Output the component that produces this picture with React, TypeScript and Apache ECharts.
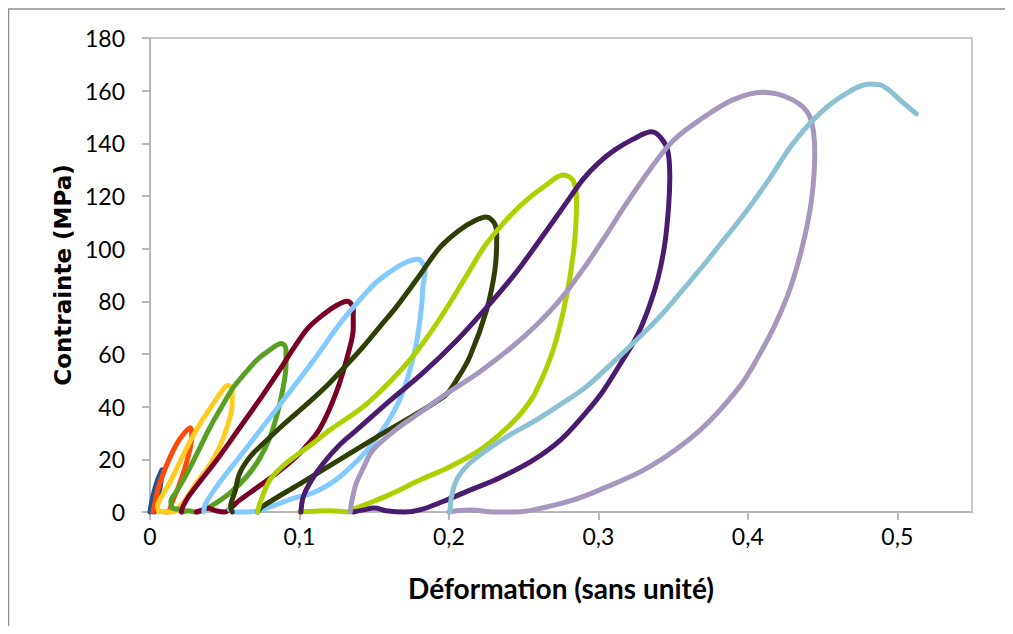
import React, { useEffect, useRef } from "react";
import * as echarts from "echarts";

// Déformation (x) / Contrainte MPa (y) for each loading-unloading cycle
const cycle1: number[][] = [[0, 0], [0.002, 6], [0.005, 12], [0.008, 16], [0.007, 10], [0.004, 3], [0.003, 0]];
const cycle2: number[][] = [[0.002, 0], [0.006, 10], [0.012, 19], [0.018, 26], [0.023, 30], [0.027, 32], [0.028, 29], [0.025, 20], [0.02, 11], [0.015, 4], [0.012, 0], [0.01, 0]];
const cycle3: number[][] = [[0.006, 0], [0.005, 2], [0.009, 7], [0.014, 12], [0.02, 19], [0.027, 27], [0.034, 34], [0.041, 40], [0.047, 45], [0.052, 48], [0.055, 47], [0.055, 41], [0.052, 33], [0.046, 24], [0.039, 17], [0.031, 11], [0.024, 5], [0.019, 1.5], [0.016, 0], [0.01, 0], [0.006, 0.5]];
const cycle4: number[][] = [[0.022, 1], [0.015, 1.5], [0.014, 4], [0.018, 8], [0.025, 15], [0.033, 24], [0.04, 32], [0.048, 40], [0.056, 47.5], [0.064, 53], [0.072, 58], [0.08, 61.5], [0.088, 64], [0.091, 62], [0.091, 56], [0.089, 47], [0.085, 37], [0.08, 28], [0.073, 20], [0.064, 13], [0.053, 7], [0.043, 3], [0.035, 0.5], [0.03, 0], [0.026, 0.5], [0.022, 0]];
const cycle5: number[][] = [[0.021, 0], [0.022, 2], [0.026, 6], [0.034, 12], [0.045, 20], [0.06, 32], [0.075, 44], [0.088, 55], [0.097, 63], [0.106, 70], [0.116, 75], [0.125, 78.5], [0.132, 80], [0.136, 77], [0.136, 70], [0.133, 61], [0.125, 46], [0.114, 32], [0.103, 24], [0.094, 19], [0.083, 14], [0.071, 9], [0.06, 4.5], [0.053, 1], [0.05, 0], [0.044, 0.5], [0.038, 1.5], [0.034, 0.5], [0.031, 0]];
const cycle6: number[][] = [[0.036, 0], [0.037, 3], [0.045, 10], [0.06, 21], [0.075, 32], [0.094, 46], [0.11, 58], [0.125, 70], [0.138, 79], [0.15, 86.5], [0.16, 91], [0.17, 94.5], [0.179, 96], [0.184, 92], [0.1825, 85], [0.1817, 78], [0.1773, 61.5], [0.167, 42.5], [0.149, 26], [0.127, 13.4], [0.11, 7.5], [0.095, 5], [0.083, 2.5], [0.073, 0.5], [0.065, 0], [0.057, 0], [0.053, 1]];
const cycle7: number[][] = [[0.055, 0], [0.054, 2], [0.057, 8], [0.06, 14.7], [0.067, 21], [0.0758, 26], [0.087, 32], [0.098, 37.5], [0.11, 43.5], [0.12, 48.9], [0.131, 55.5], [0.1427, 62.8], [0.154, 70.5], [0.165, 78], [0.1806, 90], [0.194, 100.5], [0.207, 107], [0.217, 110.5], [0.225, 112], [0.231, 109], [0.232, 104], [0.2308, 92], [0.2252, 76.7], [0.214, 59], [0.205, 50], [0.197, 44], [0.15, 27.9], [0.1, 10.6], [0.075, 2], [0.072, 0]];
const cycle8: number[][] = [[0.072, 0], [0.074, 4], [0.08, 12], [0.088, 17], [0.098, 21.5], [0.11, 26.5], [0.12, 31], [0.1427, 40], [0.158, 48], [0.172, 56.5], [0.185, 66], [0.198, 77], [0.211, 89], [0.224, 101], [0.237, 110], [0.25, 117.5], [0.2653, 124.3], [0.2765, 128], [0.283, 126], [0.2854, 119], [0.284, 102], [0.2787, 82], [0.27, 62], [0.2575, 45], [0.2475, 37], [0.235, 30], [0.2207, 23.5], [0.2, 17], [0.182, 12.5], [0.16, 6.5], [0.145, 3], [0.138, 1.5], [0.133, 0], [0.12, 0.5], [0.11, 0.3], [0.1, 0]];
const cycle9: number[][] = [[0.101, 0], [0.1026, 5.8], [0.108, 12], [0.116, 18.5], [0.126, 25], [0.138, 31], [0.16, 42], [0.183, 53], [0.205, 65], [0.225, 77.5], [0.245, 91], [0.263, 105], [0.278, 117], [0.29, 126.5], [0.3, 132.5], [0.311, 137.5], [0.323, 141.5], [0.3356, 144.4], [0.342, 142], [0.3465, 137], [0.3478, 127], [0.347, 116], [0.3445, 102], [0.34, 89], [0.334, 78], [0.326, 67], [0.3144, 56], [0.302, 45], [0.2898, 36.5], [0.275, 27.5], [0.2564, 19.7], [0.2341, 13], [0.215, 8.5], [0.196, 4], [0.1806, 0.8], [0.17, 0], [0.158, 0.5], [0.15, 1.5], [0.143, 0.8], [0.136, 0]];
const cycle10: number[][] = [[0.134, 0], [0.135, 4], [0.138, 10.9], [0.143, 17], [0.149, 23.5], [0.165, 31.5], [0.18, 37.5], [0.2, 45.5], [0.22, 53], [0.2408, 62], [0.2586, 71], [0.275, 81], [0.292, 94], [0.305, 105], [0.318, 116.5], [0.3344, 130], [0.35, 141], [0.3679, 148.9], [0.39, 156.5], [0.41, 159.4], [0.43, 156.5], [0.4415, 150.1], [0.4448, 136.2], [0.4426, 118.5], [0.437, 102], [0.429, 86], [0.419, 72], [0.407, 59], [0.3946, 47.6], [0.3679, 31], [0.3344, 17.2], [0.301, 8.4], [0.28, 4], [0.2564, 0.8], [0.245, 0], [0.23, 0], [0.215, 0.8], [0.205, 0.5], [0.2, 0]];
const cycle11: number[][] = [[0.2007, 0], [0.2015, 5], [0.205, 12], [0.213, 18], [0.2252, 23.5], [0.24, 29], [0.2586, 35], [0.275, 41], [0.292, 47.6], [0.311, 57.5], [0.3255, 65.3], [0.3411, 74.2], [0.3545, 83], [0.37, 93.5], [0.3857, 104.6], [0.4, 115], [0.415, 127], [0.4303, 140], [0.4482, 151.4], [0.466, 159], [0.4816, 162.5], [0.488, 162.3], [0.495, 160], [0.5017, 156.5], [0.508, 153.5], [0.5128, 151.2]];

const cycles = [cycle1, cycle2, cycle3, cycle4, cycle5, cycle6, cycle7, cycle8, cycle9, cycle10, cycle11];
const colors = ["#1A5696", "#FF4A0A", "#FFCC22", "#58A021", "#7A0026", "#82CAFF", "#2F3F04", "#AFD000", "#4A1C6F", "#A597BD", "#8CC1D4"];

const xTicks = [0, 0.1, 0.2, 0.3, 0.4, 0.5];
const xTitle = "Déformation (sans unité)";
const yTitle = "Contrainte (MPa)";

export default function App() {
  const ref = useRef<HTMLDivElement>(null);
  useEffect(() => {
    if (!ref.current) return;
    const chart = echarts.init(ref.current, undefined, { renderer: "svg" });
    const tickFont = { fontFamily: "Lato", fontSize: 23, color: "#000" };
    chart.setOption({
      animation: false,
      backgroundColor: "#fff",
      graphic: [
        {
          type: "rect",
          shape: { x: 0.5, y: 1, width: 1200, height: 800 },
          style: { fill: "none", stroke: "#8f8f8f", lineWidth: 1.5 },
          silent: true,
        },
      ],
      grid: {
        left: 142,
        top: 30,
        right: 33,
        bottom: 114,
        show: true,
        borderColor: "#b8b8b8",
        borderWidth: 1.5,
      },
      xAxis: {
        type: "value",
        min: 0,
        max: 0.55,
        interval: 0.1,
        name: xTitle,
        nameLocation: "middle",
        nameGap: 62,
        nameTextStyle: { fontFamily: "Lato", fontWeight: "bold", fontSize: 28, color: "#000" },
        axisLine: { show: true, onZero: false, lineStyle: { color: "#b8b8b8", width: 2 } },
        axisTick: { show: true, length: 8, customValues: xTicks, lineStyle: { color: "#b8b8b8", width: 2 } },
        axisLabel: {
          ...tickFont,
          margin: 12,
          customValues: xTicks,
          formatter: (v: number) => (Math.round(v * 10) / 10).toString().replace(".", ","),
        },
        splitLine: { show: false },
      },
      yAxis: {
        type: "value",
        min: 0,
        max: 180,
        interval: 20,
        name: yTitle,
        nameLocation: "middle",
        nameGap: 72,
        nameTextStyle: { fontFamily: "DejaVu Sans", fontWeight: "bold", fontSize: 23, color: "#000" },
        axisLine: { show: true, lineStyle: { color: "#b8b8b8", width: 2 } },
        axisTick: { show: true, length: 8, lineStyle: { color: "#b8b8b8", width: 2 } },
        axisLabel: { ...tickFont, margin: 25 },
        splitLine: { show: false },
      },
      series: cycles.map((d, i) => ({
        type: "line",
        data: d,
        showSymbol: false,
        smooth: 0.35,
        clip: false,
        lineStyle: { color: colors[i], width: 5, cap: "round", join: "round" },
        emphasis: { disabled: true },
      })),
    });
    return () => chart.dispose();
  }, []);
  return <div ref={ref} style={{ width: 997, height: 618 }} />;
}
